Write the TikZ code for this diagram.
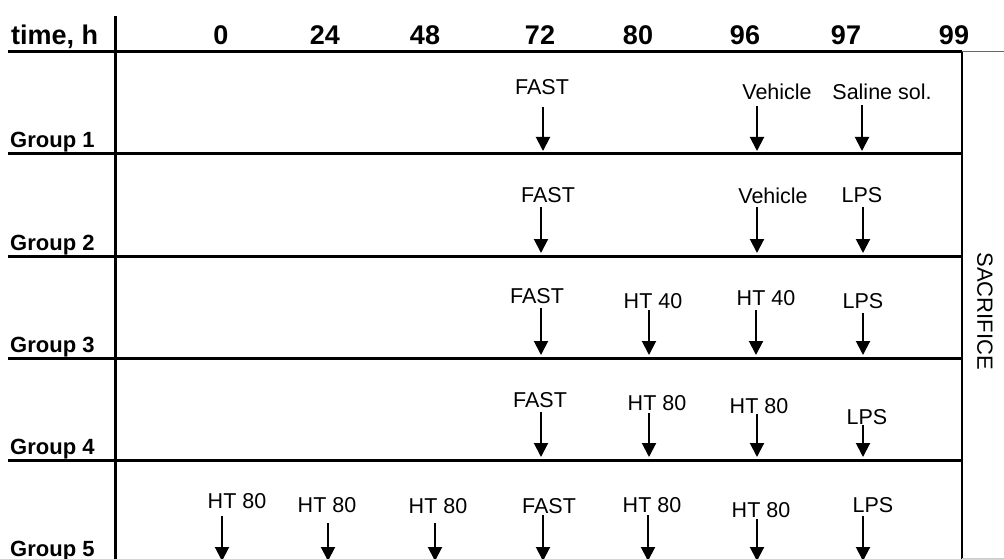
\documentclass[tikz,border=0pt]{standalone}
\usepackage{fontspec}
\setmainfont{Liberation Sans}
\usetikzlibrary{arrows.meta}
\tikzset{
  grid/.style={line width=3pt, black},
  thinrule/.style={line width=1pt, black!60},
  hdr/.style={font=\fontsize{27}{30}\selectfont\bfseries, anchor=base, inner sep=0pt},
  grp/.style={font=\fontsize{22}{25}\selectfont\bfseries, anchor=base west, inner sep=0pt},
  lbl/.style={font=\fontsize{21.5}{24}\selectfont, anchor=base, inner sep=0pt},
  evt/.style={line width=2pt, -{Triangle[width=14pt,length=14pt]}},
}
\begin{document}
\begin{tikzpicture}[x=1pt,y=-1pt]
\useasboundingbox (0,0) rectangle (1004,559);
% frame lines
\coordinate (vl1) at (115,16); \coordinate (vl2) at (115,559);
\draw[grid] (vl1) -- (vl2);
\coordinate (vr1) at (962,52); \coordinate (vr2) at (962,559);
\draw[line width=2pt] (vr1) -- (vr2);
\coordinate (h0a) at (8,52); \coordinate (h0b) at (962,52); \coordinate (h0c) at (1004,52);
\draw[grid] (h0a) -- (h0b);
\draw[thinrule] (h0b) -- (h0c);
\coordinate (bb1) at (962,558.5); \coordinate (bb2) at (1004,558.5);
\draw[line width=1pt, black!20] (bb1) -- (bb2);
\foreach \y/\n in {154/1,256/2,358/3,460/4}{
  \coordinate (ga\n) at (8,\y); \coordinate (gb\n) at (962,\y);
  \draw[grid] (ga\n) -- (gb\n);
}
% header
\node[hdr, anchor=base west] (th) at (11,45) {time, h};
\node[hdr] (t0) at (221,45) {0};
\node[hdr] (t24) at (325,45) {24};
\node[hdr] (t48) at (425,45) {48};
\node[hdr] (t72) at (540,45) {72};
\node[hdr] (t80) at (638,45) {80};
\node[hdr] (t96) at (745,45) {96};
\node[hdr] (t97) at (846,45) {97};
\node[hdr] (t99) at (954,45) {99};
% group labels
\node[grp] (g1) at (10,148) {Group 1};
\node[grp] (g2) at (10,250) {Group 2};
\node[grp] (g3) at (10,352) {Group 3};
\node[grp] (g4) at (10,454) {Group 4};
\node[grp] (g5) at (10,556) {Group 5};
% sacrifice
\node[font=\fontsize{22}{25}\selectfont, rotate=-90, inner sep=0pt] (sac) at (985,311) {SACRIFICE};
% events: label name, x, baseline, text, arrow x, arrow top, arrow tip
\foreach \nm/\lx/\ly/\txt/\ax/\at/\ab in {
  a1/542/95/FAST/543/107/151,
  a2/777/100/Vehicle/757/106/151,
  a3/882/100/Saline sol./862/105/151,
  b1/548/202/FAST/541/207/253,
  b2/773/203/Vehicle/757/207/253,
  b3/862/202/LPS/863/207/253,
  c1/537/303/FAST/541/308/355,
  c2/653/308/HT 40/649/310/355,
  c3/766/305/HT 40/756/310/355,
  c4/863/308/LPS/863/313/355,
  d1/540/407/FAST/541/412/457,
  d2/657/410/HT 80/649/413/457,
  d3/759/413/HT 80/757/414/457,
  d4/867/424/LPS/863/425/457,
  e1/237/508/HT 80/222/516/561,
  e2/327/512/HT 80/328/523/561,
  e3/438/513/HT 80/435/523/561,
  e4/549/513/FAST/543/515/561,
  e5/652/512/HT 80/648/515/561,
  e6/761/517/HT 80/757/519/561,
  e7/873/512/LPS/863/516/561}{
  \node[lbl] (l\nm) at (\lx,\ly) {\txt};
  \coordinate (s\nm) at (\ax,\at);
  \coordinate (t\nm) at (\ax,\ab);
  \draw[evt] (s\nm) -- (t\nm);
}
\end{tikzpicture}
\end{document}
